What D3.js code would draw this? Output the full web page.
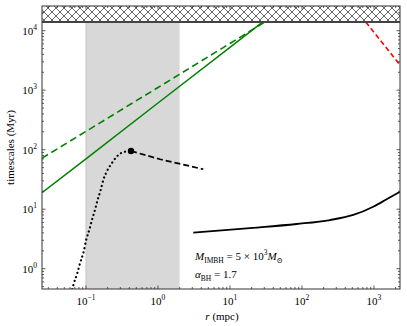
<!DOCTYPE html>
<html><head><meta charset="utf-8">
<script src="https://cdn.jsdelivr.net/npm/d3@7"></script>
<style>body{margin:0;background:#fff}svg{display:block}text{font-family:"Liberation Serif","DejaVu Serif",serif;fill:#000}</style>
</head><body><svg id="c" width="407" height="326"></svg>
<script>
// ---- data ----
const xDomain = [0.0245, 2300];
const yDomain = [0.456, 26000];
const xTickExps = [-1, 0, 1, 2, 3];
const yTickExps = [0, 1, 2, 3, 4];
const hubbleTime = 14000;            // hatched region lower edge (Myr)
const bandRange = [0.1, 2];          // grey shaded band (mpc)

const greenSolidR = [0.0245, 0.1, 1, 10, 28];
const greenSolidT = [19, 70, 610, 5250, 13800];
const greenDashR = [0.0245, 0.1, 1, 10, 30.5];
const greenDashT = [72, 203, 1110, 6100, 14000];
const redDashR = [770, 2300, 2600];
const redDashT = [14000, 2650, 2200];
const dottedR = [0.0645, 0.0667, 0.0757, 0.0826, 0.0916, 0.102, 0.111, 0.121, 0.133, 0.145, 0.160, 0.174, 0.194, 0.228, 0.267, 0.324, 0.422];
const dottedT = [0.45, 0.53, 0.84, 1.23, 1.82, 3.24, 4.47, 6.58, 9.68, 14.3, 21.0, 31.0, 42.7, 59.0, 76.2, 90.4, 95.1];
const peakR = [0.422];
const peakT = [95.1];
const blackDashR = [0.422, 1.07, 4.26];
const blackDashT = [95.1, 69, 47];
const blackSolidR = [3.09, 17.1, 84.3, 245, 516, 977, 1500, 2300];
const blackSolidT = [4.03, 4.78, 5.64, 6.58, 8.0, 11.0, 14.7, 19.7];

// ---- layout ----
const L = 42, R = 400, T = 6, B = 289;
const svg = d3.select("#c");
const x = d3.scaleLog().domain(xDomain).range([L, R]);
const y = d3.scaleLog().domain(yDomain).range([B, T]);

const defs = svg.append("defs");
defs.append("clipPath").attr("id","clip").append("rect")
  .attr("x",L).attr("y",T).attr("width",R-L).attr("height",B-T);
const pat = defs.append("pattern").attr("id","hatch").attr("patternUnits","userSpaceOnUse")
  .attr("width",8).attr("height",8);
pat.append("rect").attr("width",8).attr("height",8).attr("fill","#fff");
pat.append("path").attr("d","M0,0L8,8M8,0L0,8M-1,7L1,9M7,-1L9,1M-1,1L1,-1M7,9L9,7")
  .attr("stroke","#222").attr("stroke-width",0.7);

const g = svg.append("g").attr("clip-path","url(#clip)");

// grey band
g.append("rect").attr("x",x(bandRange[0])).attr("y",T)
  .attr("width",x(bandRange[1])-x(bandRange[0])).attr("height",B-T)
  .attr("fill","#d8d8d8");
g.append("line").attr("x1",x(bandRange[0])).attr("x2",x(bandRange[0]))
  .attr("y1",T).attr("y2",B).attr("stroke","#c4c4c4").attr("stroke-width",1);

const zip = (a,b) => a.map((v,i)=>[v,b[i]]);
const line = d3.line().x(d=>x(d[0])).y(d=>y(d[1]));
const smooth = d3.line().x(d=>x(d[0])).y(d=>y(d[1])).curve(d3.curveMonotoneX);

g.append("path").attr("d",line(zip(greenSolidR,greenSolidT)))
  .attr("fill","none").attr("stroke","#008000").attr("stroke-width",1.5);
g.append("path").attr("d",line(zip(greenDashR,greenDashT)))
  .attr("fill","none").attr("stroke","#008000").attr("stroke-width",1.6).attr("stroke-dasharray","7,4");
g.append("path").attr("d",line(zip(redDashR,redDashT)))
  .attr("fill","none").attr("stroke","#ff0000").attr("stroke-width",1.6).attr("stroke-dasharray","5,3");
g.append("path").attr("d",smooth(zip(dottedR,dottedT)))
  .attr("fill","none").attr("stroke","#000").attr("stroke-width",2.2)
  .attr("stroke-dasharray","0.1,4.2").attr("stroke-linecap","round");
g.append("path").attr("d",line(zip(blackDashR,blackDashT)))
  .attr("fill","none").attr("stroke","#000").attr("stroke-width",1.7).attr("stroke-dasharray","6,3");
g.append("path").attr("d",smooth(zip(blackSolidR,blackSolidT)))
  .attr("fill","none").attr("stroke","#000").attr("stroke-width",1.8);
g.selectAll("circle.peak").data(zip(peakR,peakT)).enter().append("circle")
  .attr("cx",d=>x(d[0])).attr("cy",d=>y(d[1])).attr("r",3.2).attr("fill","#000");

// hatched region above Hubble time
g.append("rect").attr("x",L).attr("y",T).attr("width",R-L).attr("height",y(hubbleTime)-T)
  .attr("fill","url(#hatch)");
g.append("line").attr("x1",L).attr("x2",R).attr("y1",y(hubbleTime)).attr("y2",y(hubbleTime))
  .attr("stroke","#444").attr("stroke-width",1.8);

// frame
svg.append("rect").attr("x",L).attr("y",T).attr("width",R-L).attr("height",B-T)
  .attr("fill","none").attr("stroke","#333").attr("stroke-width",1);

// ticks (inward, all four sides)
const tk = svg.append("g").attr("stroke","#333").attr("stroke-width",0.8);
function minorTicks(exps, domain){
  const out=[];
  for(let e=Math.floor(Math.log10(domain[0]))-1;e<=Math.ceil(Math.log10(domain[1]));e++){
    for(let m=2;m<=9;m++){const v=m*Math.pow(10,e); if(v>domain[0]&&v<domain[1]) out.push(v);}
  }
  return out;
}
const xMaj = xTickExps.map(e=>Math.pow(10,e));
const yMaj = yTickExps.map(e=>Math.pow(10,e));
xMaj.forEach(v=>{tk.append("line").attr("x1",x(v)).attr("x2",x(v)).attr("y1",B).attr("y2",B-3.5);
  tk.append("line").attr("x1",x(v)).attr("x2",x(v)).attr("y1",T).attr("y2",T+3.5);});
minorTicks(xTickExps,xDomain).forEach(v=>{tk.append("line").attr("x1",x(v)).attr("x2",x(v)).attr("y1",B).attr("y2",B-2);
  tk.append("line").attr("x1",x(v)).attr("x2",x(v)).attr("y1",T).attr("y2",T+2);});
yMaj.forEach(v=>{tk.append("line").attr("y1",y(v)).attr("y2",y(v)).attr("x1",L).attr("x2",L+3.5);
  tk.append("line").attr("y1",y(v)).attr("y2",y(v)).attr("x1",R).attr("x2",R-3.5);});
minorTicks(yTickExps,yDomain).forEach(v=>{tk.append("line").attr("y1",y(v)).attr("y2",y(v)).attr("x1",L).attr("x2",L+2);
  tk.append("line").attr("y1",y(v)).attr("y2",y(v)).attr("x1",R).attr("x2",R-2);});

// tick labels
xTickExps.forEach(e=>{
  const t = svg.append("text").attr("x",x(Math.pow(10,e))).attr("y",305).attr("text-anchor","middle").attr("font-size",11);
  t.append("tspan").text("10");
  t.append("tspan").attr("dy",-5).attr("font-size",7.5).text(e<0?"\u2212"+(-e):String(e));
});
yTickExps.forEach(e=>{
  const t = svg.append("text").attr("x",37).attr("y",y(Math.pow(10,e))+4).attr("text-anchor","end").attr("font-size",11);
  t.append("tspan").text("10");
  t.append("tspan").attr("dy",-5).attr("font-size",7.5).text(String(e));
});

// axis labels
const xl = svg.append("text").attr("x",222).attr("y",320).attr("text-anchor","middle").attr("font-size",11);
xl.append("tspan").attr("font-style","italic").text("r");
xl.append("tspan").text(" (mpc)");
svg.append("text").attr("transform","translate(14,"+((T+B)/2)+") rotate(-90)")
  .attr("text-anchor","middle").attr("font-size",11).text("timescales (Myr)");

// annotation
const a1 = svg.append("text").attr("x",195).attr("y",260).attr("font-size",11);
a1.append("tspan").attr("font-style","italic").text("M");
a1.append("tspan").attr("dy",2.5).attr("font-size",7.5).text("IMBH");
a1.append("tspan").attr("dy",-2.5).text(" = 5 \u00d7 10");
a1.append("tspan").attr("dy",-5).attr("font-size",7.5).text("3");
a1.append("tspan").attr("dy",5).attr("font-style","italic").text("M");
a1.append("tspan").attr("dy",2.5).attr("font-size",7.5).text("\u2299");
const a2 = svg.append("text").attr("x",195).attr("y",278).attr("font-size",11);
a2.append("tspan").attr("font-style","italic").text("\u03b1");
a2.append("tspan").attr("dy",2.5).attr("font-size",7.5).text("BH");
a2.append("tspan").attr("dy",-2.5).text(" = 1.7");
</script></body></html>
